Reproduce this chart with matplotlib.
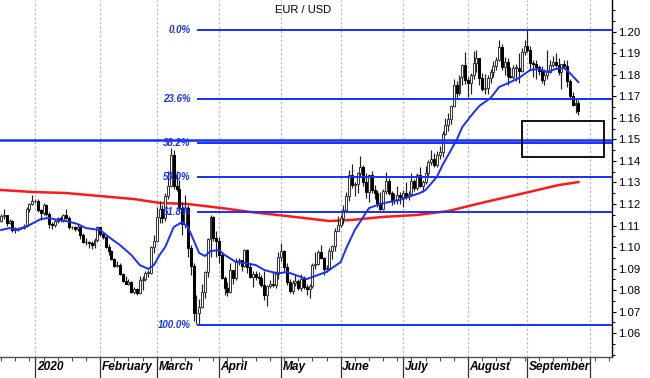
import numpy as np
import pandas as pd
import matplotlib
matplotlib.use("Agg")
import matplotlib.pyplot as plt
from matplotlib.patches import Rectangle
import matplotlib.transforms as mtransforms

plt.rcParams['font.family'] = ['Liberation Sans', 'DejaVu Sans']

# ---------------- data (EUR/USD daily) ----------------
first_date, last_date = '2019-12-16', '2020-09-25'
first_open = 1.1120

closes = [
    # Dec 2019
    1.1143, 1.1150, 1.1113, 1.1122, 1.1080, 1.1088, 1.1090, 1.1090, 1.1100, 1.1177, 1.1199, 1.1213,
    # Jan
    1.1215, 1.1170, 1.1160, 1.1195, 1.1153, 1.1105, 1.1104, 1.1121, 1.1135, 1.1127, 1.1150, 1.1137,
    1.1091, 1.1095, 1.1082, 1.1094, 1.1056, 1.1025, 1.1022, 1.1019, 1.1010, 1.1031, 1.1093,
    # Feb
    1.1060, 1.1045, 1.1002, 1.0981, 1.0944, 1.0910, 1.0915, 1.0874, 1.0841, 1.0830, 1.0836, 1.0790,
    1.0805, 1.0785, 1.0848, 1.0853, 1.0880, 1.0881, 1.0999, 1.1027,
    # Mar
    1.1138, 1.1176, 1.1136, 1.1238, 1.1284, 1.1426, 1.1285, 1.1269, 1.1180, 1.1105, 1.1180, 1.0997,
    1.0912, 1.0691, 1.0695, 1.0721, 1.0790, 1.0884, 1.1035, 1.1140, 1.1041, 1.1029,
    # Apr
    1.0963, 1.0857, 1.0808, 1.0790, 1.0893, 1.0858, 1.0935, 1.0940, 1.0913, 1.0985, 1.0908, 1.0862,
    1.0875, 1.0862, 1.0856, 1.0823, 1.0779, 1.0818, 1.0828, 1.0822, 1.0876, 1.0955,
    # May
    1.0980, 1.0908, 1.0838, 1.0794, 1.0833, 1.0840, 1.0808, 1.0850, 1.0816, 1.0804, 1.0819, 1.0917,
    1.0922, 1.0975, 1.0948, 1.0898, 1.0901, 1.0980, 1.1005, 1.1075, 1.1102,
    # Jun
    1.1133, 1.1172, 1.1236, 1.1336, 1.1290, 1.1293, 1.1342, 1.1374, 1.1300, 1.1257, 1.1336, 1.1264,
    1.1250, 1.1204, 1.1177, 1.1262, 1.1308, 1.1251, 1.1220, 1.1218, 1.1243, 1.1234,
    # Jul
    1.1249, 1.1239, 1.1245, 1.1309, 1.1275, 1.1333, 1.1286, 1.1300, 1.1342, 1.1397, 1.1411, 1.1383,
    1.1428, 1.1444, 1.1526, 1.1568, 1.1596, 1.1656, 1.1755, 1.1717, 1.1790, 1.1846, 1.1778,
    # Aug
    1.1761, 1.1799, 1.1855, 1.1877, 1.1787, 1.1736, 1.1740, 1.1785, 1.1813, 1.1842, 1.1869, 1.1931,
    1.1837, 1.1861, 1.1795, 1.1792, 1.1834, 1.1834, 1.1819, 1.1907, 1.1935,
    # Sep
    1.1914, 1.1854, 1.1851, 1.1838, 1.1817, 1.1778, 1.1800, 1.1813, 1.1845, 1.1862, 1.1846, 1.1815,
    1.1849, 1.1841, 1.1771, 1.1704, 1.1659, 1.1672, 1.1632,
]
highs = [
    1.1155, 1.1175, 1.1150, 1.1130, 1.1125, 1.1095, 1.1095, 1.1095, 1.1105, 1.1185, 1.1205, 1.1240,
    1.1225, 1.1225, 1.1175, 1.1205, 1.1200, 1.1165, 1.1115, 1.1130, 1.1140, 1.1145, 1.1155, 1.1175,
    1.1145, 1.1100, 1.1100, 1.1105, 1.1100, 1.1065, 1.1040, 1.1030, 1.1030, 1.1040, 1.1100,
    1.1095, 1.1065, 1.1050, 1.1015, 1.0985, 1.0950, 1.0935, 1.0925, 1.0880, 1.0865, 1.0850, 1.0840,
    1.0815, 1.0810, 1.0865, 1.0865, 1.0890, 1.0895, 1.1005, 1.1055,
    1.1185, 1.1215, 1.1195, 1.1250, 1.1355, 1.1460, 1.1450, 1.1355, 1.1310, 1.1210, 1.1240, 1.1195,
    1.1010, 1.0925, 1.0775, 1.0760, 1.0830, 1.0890, 1.1040, 1.1147, 1.1145, 1.1075,
    1.1045, 1.0970, 1.0865, 1.0835, 1.0925, 1.0895, 1.0950, 1.0950, 1.0940, 1.0990, 1.0990, 1.0925,
    1.0890, 1.0890, 1.0885, 1.0870, 1.0890, 1.0825, 1.0845, 1.0890, 1.0890, 1.0975,
    1.1019, 1.0985, 1.0925, 1.0850, 1.0845, 1.0870, 1.0850, 1.0875, 1.0865, 1.0830, 1.0830, 1.0925,
    1.0975, 1.0985, 1.1010, 1.0955, 1.0915, 1.0995, 1.1010, 1.1090, 1.1145,
    1.1150, 1.1195, 1.1255, 1.1360, 1.1385, 1.1300, 1.1350, 1.1422, 1.1380, 1.1345, 1.1340, 1.1355,
    1.1290, 1.1265, 1.1255, 1.1270, 1.1350, 1.1320, 1.1260, 1.1250, 1.1285, 1.1255,
    1.1265, 1.1300, 1.1260, 1.1345, 1.1315, 1.1345, 1.1370, 1.1310, 1.1375, 1.1405, 1.1450, 1.1435,
    1.1445, 1.1470, 1.1540, 1.1600, 1.1625, 1.1660, 1.1780, 1.1770, 1.1800, 1.1850, 1.1909,
    1.1790, 1.1810, 1.1910, 1.1916, 1.1880, 1.1810, 1.1805, 1.1800, 1.1830, 1.1865, 1.1885, 1.1965,
    1.1945, 1.1885, 1.1880, 1.1835, 1.1845, 1.1850, 1.1900, 1.1925, 1.1965,
    1.2011, 1.1935, 1.1870, 1.1870, 1.1845, 1.1840, 1.1830, 1.1915, 1.1870, 1.1890, 1.1900, 1.1880,
    1.1850, 1.1870, 1.1870, 1.1780, 1.1720, 1.1690, 1.1685,
]
lows = [
    1.1115, 1.1130, 1.1100, 1.1105, 1.1070, 1.1065, 1.1075, 1.1085, 1.1085, 1.1095, 1.1165, 1.1195,
    1.1205, 1.1165, 1.1125, 1.1150, 1.1145, 1.1090, 1.1085, 1.1095, 1.1110, 1.1115, 1.1115, 1.1130,
    1.1085, 1.1085, 1.1075, 1.1075, 1.1035, 1.1020, 1.1010, 1.0995, 1.0990, 1.0995, 1.1025,
    1.1050, 1.1035, 1.0995, 1.0965, 1.0940, 1.0905, 1.0905, 1.0870, 1.0835, 1.0830, 1.0825, 1.0785,
    1.0780, 1.0778, 1.0780, 1.0800, 1.0840, 1.0860, 1.0875, 1.0970,
    1.1025, 1.1110, 1.1110, 1.1120, 1.1225, 1.1280, 1.1270, 1.1260, 1.1170, 1.1055, 1.1090, 1.0955,
    1.0870, 1.0655, 1.0640, 1.0636, 1.0715, 1.0765, 1.0860, 1.0955, 1.1030, 1.0955,
    1.0925, 1.0850, 1.0775, 1.0770, 1.0785, 1.0830, 1.0845, 1.0915, 1.0890, 1.0905, 1.0880, 1.0855,
    1.0815, 1.0845, 1.0830, 1.0815, 1.0755, 1.0727, 1.0810, 1.0815, 1.0810, 1.0850,
    1.0935, 1.0890, 1.0825, 1.0785, 1.0780, 1.0820, 1.0800, 1.0795, 1.0805, 1.0775, 1.0765, 1.0810,
    1.0900, 1.0915, 1.0945, 1.0870, 1.0885, 1.0895, 1.0945, 1.0980, 1.1075,
    1.1095, 1.1105, 1.1165, 1.1215, 1.1275, 1.1235, 1.1250, 1.1325, 1.1285, 1.1230, 1.1210, 1.1250,
    1.1225, 1.1185, 1.1170, 1.1170, 1.1245, 1.1240, 1.1195, 1.1200, 1.1200, 1.1200,
    1.1185, 1.1225, 1.1220, 1.1240, 1.1260, 1.1265, 1.1280, 1.1255, 1.1295, 1.1325, 1.1380, 1.1370,
    1.1370, 1.1410, 1.1420, 1.1520, 1.1540, 1.1570, 1.1650, 1.1690, 1.1705, 1.1755, 1.1760,
    1.1696, 1.1710, 1.1780, 1.1815, 1.1755, 1.1725, 1.1710, 1.1710, 1.1765, 1.1790, 1.1825, 1.1865,
    1.1825, 1.1800, 1.1755, 1.1785, 1.1780, 1.1770, 1.1765, 1.1815, 1.1895,
    1.1905, 1.1825, 1.1790, 1.1780, 1.1800, 1.1765, 1.1755, 1.1780, 1.1810, 1.1835, 1.1835, 1.1800,
    1.1735, 1.1830, 1.1745, 1.1690, 1.1655, 1.1625, 1.1615,
]

# moving averages
ma_blue_dates = ['2019-12-16', '2019-12-19', '2019-12-24', '2019-12-30', '2020-01-03', '2020-01-08',
                 '2020-01-13', '2020-01-16', '2020-01-22', '2020-01-27', '2020-02-03', '2020-02-06',
                 '2020-02-12', '2020-02-18', '2020-02-21', '2020-02-26', '2020-02-28', '2020-03-03',
                 '2020-03-05', '2020-03-10', '2020-03-13', '2020-03-17', '2020-03-19', '2020-03-23',
                 '2020-03-25', '2020-03-27', '2020-04-01', '2020-04-03', '2020-04-09', '2020-04-14',
                 '2020-04-20', '2020-04-23', '2020-04-29', '2020-05-01', '2020-05-05', '2020-05-11',
                 '2020-05-14', '2020-05-20', '2020-05-25', '2020-06-01', '2020-06-03', '2020-06-08',
                 '2020-06-11', '2020-06-15', '2020-06-19', '2020-06-24', '2020-06-30', '2020-07-03',
                 '2020-07-09', '2020-07-13', '2020-07-17', '2020-07-21', '2020-07-24', '2020-07-28',
                 '2020-07-30', '2020-08-04', '2020-08-07', '2020-08-13', '2020-08-18', '2020-08-24',
                 '2020-08-27', '2020-09-02', '2020-09-07', '2020-09-10', '2020-09-15', '2020-09-18',
                 '2020-09-22', '2020-09-25']
ma_blue_values = [1.1079, 1.1088, 1.1079, 1.1102, 1.1130, 1.1135,
                  1.1126, 1.1121, 1.1107, 1.1088, 1.1079, 1.1047,
                  1.1009, 1.0963, 1.0916, 1.0898, 1.0916, 1.0963,
                  1.1000, 1.1093, 1.1116, 1.1093, 1.1033, 1.0972,
                  1.0958, 1.0981, 1.0986, 1.0963, 1.0930, 1.0926,
                  1.0916, 1.0893, 1.0879, 1.0879, 1.0884, 1.0865,
                  1.0851, 1.0870, 1.0884, 1.0930, 1.0995, 1.1079,
                  1.1140, 1.1181, 1.1200, 1.1209, 1.1219, 1.1233,
                  1.1251, 1.1265, 1.1326, 1.1381, 1.1451, 1.1498,
                  1.1558, 1.1609, 1.1656, 1.1693, 1.1744, 1.1767,
                  1.1786, 1.1823, 1.1828, 1.1814, 1.1828, 1.1833,
                  1.1809, 1.1767]
ma_red_dates = ['2019-12-16', '2019-12-31', '2020-01-16', '2020-02-03', '2020-02-19', '2020-03-03',
                '2020-03-17', '2020-04-02', '2020-04-16', '2020-05-05', '2020-05-26', '2020-06-05',
                '2020-06-22', '2020-07-08', '2020-07-23', '2020-08-11', '2020-08-31', '2020-09-16',
                '2020-09-25']
ma_red_values = [1.1265, 1.1256, 1.1251, 1.1237, 1.1223, 1.1205,
                 1.1200, 1.1181, 1.1163, 1.1144, 1.1121, 1.1126,
                 1.1140, 1.1149, 1.1167, 1.1209, 1.1251, 1.1288,
                 1.1302]

# Fibonacci retracement
fib_high, fib_low = 1.2011, 1.0636
fib_start_date = '2020-03-23'
fib_ratios = [0.0, 0.236, 0.382, 0.5, 0.618, 1.0]
fib_labels = ['0.0%', '23.6%', '38.2%', '50.0%', '61.8%', '100.0%']
support_level = 1.1498
box_dates = ('2020-08-28', '2020-10-08')
box_prices = (1.1419, 1.1586)

month_labels = ['2020', 'February', 'March', 'April', 'May', 'June', 'July', 'August', 'September']
title = 'EUR / USD'

# ---------------- positions ----------------
cal = pd.bdate_range('2019-12-01', '2020-10-31')
origin = cal.get_loc(pd.Timestamp('2020-01-01'))


def xpos(d):
    return cal.get_loc(pd.Timestamp(d)) - origin


dates = pd.bdate_range(first_date, last_date)
assert len(dates) == len(closes) == len(highs) == len(lows)
x = np.array([xpos(d) for d in dates], dtype=float)
c = np.array(closes)
o = np.array([first_open] + closes[:-1])
h = np.array(highs)
l = np.array(lows)

XMIN, XMAX = -12.4, 203.9
YMIN, YMAX = 1.04884, 1.21488

W, H = 650, 378
fig = plt.figure(figsize=(W / 100, H / 100), dpi=100)
ax = fig.add_axes([0, 21 / H, 612 / W, 357 / H])

# month grid
month_starts = [xpos(cal[cal.month == m][0]) for m in [1, 2, 3, 4, 5, 6, 7, 8, 9, 10]]
for ms in month_starts:
    ax.axvline(ms, color='#b4b4b4', lw=0.8, ls=(0, (2, 2)), zorder=0)

# MAs
ax.plot([xpos(d) for d in ma_red_dates], ma_red_values, color='#ff1a1a', lw=1.8, zorder=2)

# candles
up = c >= o
ax.vlines(x, l, h, color='#202020', lw=0.85, zorder=3)
body_low = np.minimum(o, c)
body_h = np.maximum(np.abs(c - o), 0.00015)
ax.bar(x[up], body_h[up], bottom=body_low[up], width=0.7, color='white',
       edgecolor='#3a3a3a', linewidth=0.75, zorder=4)
ax.bar(x[~up], body_h[~up], bottom=body_low[~up], width=0.7, color='black',
       edgecolor='black', linewidth=0.75, zorder=4)

ax.plot([xpos(d) for d in ma_blue_dates], ma_blue_values, color='#1530ff', lw=1.4, zorder=5)

# horizontal lines
ax.axhline(support_level, color='#1530ff', lw=1.8, zorder=6)
fx0 = xpos(fib_start_date) - 0.7
for r, lab in zip(fib_ratios, fib_labels):
    lvl = fib_high - r * (fib_high - fib_low)
    ax.hlines(lvl, fx0, XMAX, color='#1530ff', lw=1.4, zorder=6)
    ax.text(fx0 - 2.4, lvl, lab, ha='right', va='center', color='#1530ff',
            fontsize=7, fontweight='bold', fontstyle='italic', zorder=7)

# box
bx0, bx1 = xpos(box_dates[0]), xpos(box_dates[1])
ax.add_patch(Rectangle((bx0, box_prices[0]), bx1 - bx0, box_prices[1] - box_prices[0],
                       fill=False, ec='black', lw=1.3, zorder=7))

ax.text(0.495, 0.972, title, transform=ax.transAxes, ha='center', va='center',
        fontsize=8, color='black')

# axes styling
for s in ['left', 'top']:
    ax.spines[s].set_visible(False)
ax.spines['right'].set_color('black')
ax.spines['right'].set_linewidth(1.0)
ax.spines['bottom'].set_color('#505050')
ax.spines['bottom'].set_linewidth(1.0)

ax.yaxis.tick_right()
major_y = np.round(np.arange(1.06, 1.2001, 0.01), 2)
ax.set_yticks(major_y)
ax.set_yticks(np.round(np.arange(1.05, 1.2101, 0.005), 3), minor=True)
ax.set_yticklabels([f'{v:.2f}' for v in major_y])
ax.tick_params(axis='y', which='major', length=3.2, width=0.8, pad=1.5, labelsize=8.2, colors='black')
ax.tick_params(axis='y', which='minor', length=2.2, width=0.8)

mondays = [xpos(d) for d in cal if d.weekday() == 0 and XMIN <= xpos(d) <= XMAX]
ax.set_xticks(month_starts)
ax.set_xticks(mondays, minor=True)
ax.tick_params(axis='x', which='major', length=15, width=0.9, color='#303030', labelbottom=False)
ax.tick_params(axis='x', which='minor', length=3, width=0.8, color='#505050')

trans = mtransforms.blended_transform_factory(ax.transData, ax.transAxes)
for ms, lab in zip(month_starts, month_labels):
    ax.text(ms + 0.6, -0.012, lab, transform=trans, ha='left', va='top',
            fontsize=8.6, fontweight='bold', fontstyle='italic', color='black', clip_on=False)

ax.set_xlim(XMIN, XMAX)
ax.set_ylim(YMIN, YMAX)

fig.savefig('out.png', dpi=100)
